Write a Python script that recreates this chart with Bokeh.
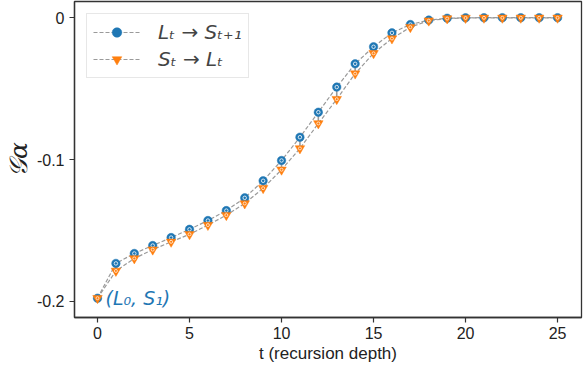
from bokeh.plotting import figure
from bokeh.models import (Range1d, FixedTicker, CustomJSTickFormatter, Legend, LegendItem, Label)
from bokeh.embed import file_html
from bokeh.resources import INLINE

t = list(range(26))
l_to_s = [-0.1977, -0.1732, -0.1662, -0.1606, -0.1550, -0.1492, -0.1430, -0.1360,
          -0.1270, -0.1150, -0.1007, -0.0843, -0.0667, -0.0490, -0.0326, -0.0206,
          -0.0108, -0.0049, -0.0018, -0.0005, -0.0002, -0.0001, -0.0001, -0.0001,
          -0.0001, -0.0001]
s_to_l = [-0.1977, -0.1785, -0.1697, -0.1635, -0.1580, -0.1527, -0.1462, -0.1392,
          -0.1310, -0.1202, -0.1072, -0.0922, -0.0746, -0.0575, -0.0395, -0.0252,
          -0.0148, -0.0068, -0.0022, -0.0007, -0.0003, -0.0002, -0.0002, -0.0002,
          -0.0002, -0.0002]
x_ticks = [0, 5, 10, 15, 20, 25]
y_ticks = [-0.2, -0.1, 0]
label_ls = "Lₜ → Sₜ₊₁"
label_sl = "Sₜ → Lₜ"
annot = "(L₀, S₁)"

BLUE = "#1f77b4"
ORANGE = "#ff7f0e"
GRAY = "#9a9a9a"
AX = "#333333"
FONT = "Liberation Sans"

p = figure(width=584, height=366, output_backend="svg", toolbar_location=None,
           x_range=Range1d(-1.25, 26.3), y_range=Range1d(-0.2113, 0.0113),
           min_border_left=73, min_border_right=3, min_border_top=1, min_border_bottom=49)
p.grid.visible = False
p.outline_line_color = AX
p.outline_line_width = 1.3
p.background_fill_color = "white"
p.border_fill_color = "white"

for ax in (p.xaxis[0], p.yaxis[0]):
    ax.axis_line_color = AX
    ax.axis_line_width = 1.3
    ax.major_tick_line_color = AX
    ax.major_tick_line_width = 1.2
    ax.major_tick_out = 5
    ax.major_tick_in = 0
    ax.minor_tick_line_color = None
    ax.major_label_text_font = FONT
    ax.major_label_text_font_size = "16px"
    ax.major_label_text_color = "#222222"
    ax.axis_label_text_color = "#222222"

p.xaxis.ticker = FixedTicker(ticks=x_ticks)
p.yaxis.ticker = FixedTicker(ticks=y_ticks)
p.yaxis.formatter = CustomJSTickFormatter(code="return Math.abs(tick) < 1e-9 ? '0' : tick.toFixed(1);")
p.xaxis.major_label_standoff = 4
p.xaxis.axis_label = "t (recursion depth)"
p.xaxis.axis_label_text_font = FONT
p.xaxis.axis_label_text_font_style = "normal"
p.xaxis.axis_label_text_font_size = "17px"
p.xaxis.axis_label_standoff = 2

p.yaxis.axis_label = "𝒢α"
p.yaxis.axis_label_text_font = "DejaVu Serif"
p.yaxis.axis_label_text_font_style = "italic"
p.yaxis.axis_label_text_font_size = "25px"
p.yaxis.axis_label_standoff = 1
p.yaxis.major_label_standoff = 5

# connectors between the two series
p.segment(x0=t, y0=l_to_s, x1=t, y1=s_to_l, line_color=GRAY, line_width=1.6)

line1 = p.line(t, l_to_s, line_color=GRAY, line_dash="4 2", line_width=1.2)
line2 = p.line(t, s_to_l, line_color=GRAY, line_dash="4 2", line_width=1.2)
m1 = p.scatter(t, l_to_s, marker="circle", size=8.5, fill_color=BLUE, line_color=BLUE, line_width=0.5)
p.scatter(t, l_to_s, marker="circle", size=3.5, fill_color=None, line_color="white", line_width=0.8)
m2 = p.scatter(t, s_to_l, marker="inverted_triangle", size=9.5, fill_color=ORANGE, line_color=ORANGE, line_width=0.5)
p.scatter(t, s_to_l, marker="circle", size=3, fill_color=None, line_color="white", line_width=0.7)

legend = Legend(items=[LegendItem(label=label_ls, renderers=[line1, m1]),
                       LegendItem(label=label_sl, renderers=[line2, m2])],
                location="top_left", glyph_width=47, glyph_height=24,
                label_text_font="DejaVu Sans", label_text_font_style="italic",
                label_text_font_size="20px", label_standoff=18, label_height=24,
                border_line_color="#d0d0d0", border_line_width=1.2,
                padding=6, spacing=3, margin=12)
p.add_layout(legend)

p.add_layout(Label(x=t[0], y=l_to_s[0], x_offset=8, y_offset=0, text=annot,
                   text_baseline="middle", text_color=BLUE, text_font="DejaVu Sans",
                   text_font_style="italic", text_font_size="19px"))

open("out.html", "w").write(file_html(p, INLINE))
